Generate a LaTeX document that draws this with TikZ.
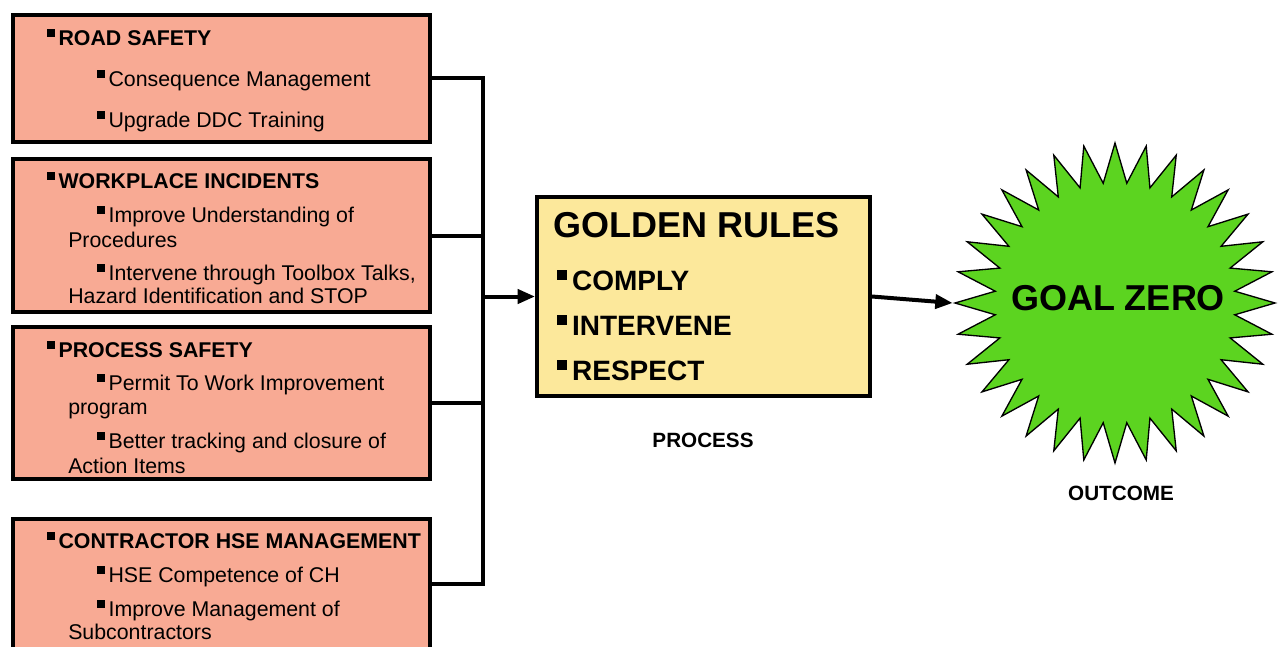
\documentclass[tikz,border=0pt]{standalone}
\usepackage{fontspec}
\setmainfont{Liberation Sans}
\usetikzlibrary{arrows.meta,shapes.geometric}
\definecolor{salmon}{RGB}{248,170,148}
\definecolor{paleyellow}{RGB}{252,232,155}
\definecolor{goalgreen}{RGB}{92,212,32}
\newcommand\sqb{\rule[0.37em]{0.36em}{0.36em}\hspace{0.17em}}
\tikzset{
  catbox/.style={draw,line width=3pt,fill=salmon,minimum width=313pt,inner sep=0},
  wire/.style={line width=3pt},
  feed/.style={-{Triangle[length=13pt,width=10.5pt]}},
  txt/.style={anchor=base west,inner sep=0,font=\fontsize{16}{19}\selectfont},
  caption/.style={anchor=base,inner sep=0,font=\bfseries\fontsize{15.5}{18}\selectfont},
}
\begin{document}
\begin{tikzpicture}[x=0.75pt,y=-0.75pt]
\useasboundingbox (0,0) rectangle (1284,646);
% the four fields on the left
\node[catbox,minimum height=95.6pt] (road) at (221.25,78.25) {};
\node[catbox,minimum height=114.75pt] (work) at (221.25,235.5) {};
\node[catbox,minimum height=114pt] (proc) at (221.25,403) {};
\node[catbox,minimum height=97.5pt] (contr) at (221.25,584) {};
\foreach \tx/\ty/\lbl [count=\i] in {
  47/45/{\bfseries\sqb ROAD SAFETY},
  97/86/{\sqb Consequence Management},
  97/127/{\sqb Upgrade DDC Training},
  47/188/{\bfseries\sqb WORKPLACE INCIDENTS},
  97/222/{\sqb Improve Understanding of},
  68/247/{Procedures},
  97/280/{\sqb Intervene through Toolbox Talks,},
  68/303/{Hazard Identification and STOP},
  47/357/{\bfseries\sqb PROCESS SAFETY},
  97/390/{\sqb Permit To Work Improvement},
  68/414/{program},
  97/448/{\sqb Better tracking and closure of},
  68/473/{Action Items},
  47/548/{\bfseries\sqb CONTRACTOR HSE MANAGEMENT},
  97/582/{\sqb HSE Competence of CH},
  97/616/{\sqb Improve Management of},
  68/639/{Subcontractors}}
  \node[txt] (line\i) at (\tx,\ty) {\lbl};

% process
\node[draw,line width=3pt,fill=paleyellow,minimum width=249.75pt,minimum height=149.25pt,inner sep=0] (gold) at (703.5,296.5) {};
\node[anchor=base west,inner sep=0,font=\bfseries\fontsize{27}{32}\selectfont] (goldhead) at (553,237) {GOLDEN RULES};
\foreach \ry/\rl [count=\j] in {290/COMPLY,335/INTERVENE,380/RESPECT}
  \node[anchor=base west,inner sep=0,font=\bfseries\fontsize{21}{25}\selectfont] (rule\j) at (557,\ry) {\sqb\rl};
\node[caption] (proclbl) at (703,447) {PROCESS};

% outcome
\node[star,star points=32,star point ratio=1.33,draw,line width=1pt,fill=goalgreen,minimum size=240pt,inner sep=0] (goal) at (1115,303) {};
\node[anchor=base,inner sep=0,font=\bfseries\fontsize{27}{32}\selectfont] (goaltxt) at (1118,310) {GOAL ZERO};
\node[caption] (outlbl) at (1121,500) {OUTCOME};

% connectors
\coordinate (jn) at (483,296.5);
\foreach \b in {road,work,proc,contr}
  \draw[wire] (\b.east) -| (jn);
\draw[wire,feed] (jn) -- (gold.west);
\draw[wire,feed] (gold.east) -- (goal.west);
\end{tikzpicture}
\end{document}
